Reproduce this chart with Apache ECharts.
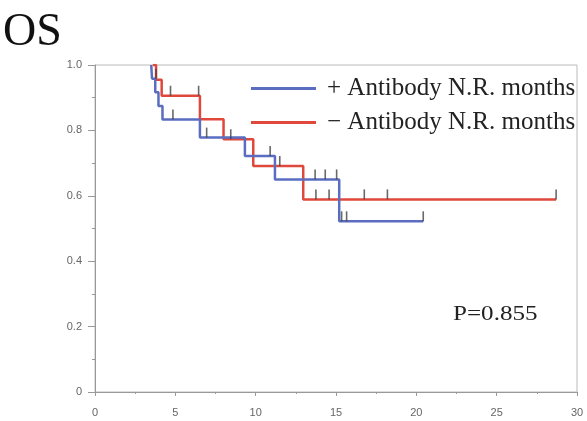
<!DOCTYPE html>
<html>
<head>
<meta charset="utf-8">
<script src="https://cdn.jsdelivr.net/npm/echarts@6/dist/echarts.min.js"></script>
<style>
  html, body { margin: 0; padding: 0; background: #fff; }
  #chart { width: 587px; height: 421px; }
</style>
</head>
<body>
<div id="chart"></div>
<script>
// Kaplan-Meier steps (time in months, survival after the event)
const plusTimes = [3.5, 3.55, 3.75, 3.95, 4.2, 6.53, 9.33, 11.2, 15.2, 20.43];
const plusSurv  = [1, 0.958, 0.917, 0.875, 0.833, 0.778, 0.722, 0.65, 0.522, 0.522];
const minusTimes = [3.6, 3.8, 4.15, 6.53, 8.0, 9.85, 12.96, 28.7];
const minusSurv  = [1, 0.955, 0.906, 0.834, 0.773, 0.691, 0.589, 0.589];

// censored marks
const plusCensTimes = [3.8, 4.85, 6.95, 10.9, 13.7, 14.33, 15.04, 15.35, 15.66, 20.43];
const plusCensSurv  = [0.958, 0.833, 0.778, 0.722, 0.65, 0.65, 0.65, 0.522, 0.522, 0.522];
const minusCensTimes = [4.7, 6.45, 8.45, 11.5, 13.75, 14.57, 16.76, 18.2, 28.7];
const minusCensSurv  = [0.906, 0.906, 0.773, 0.691, 0.589, 0.589, 0.589, 0.589, 0.589];

const seriesNames = ['+ Antibody N.R. months', '\u2212 Antibody N.R. months'];
const xTicks = [0, 30, 5];
const pText = 'P=0.855';

const zip = (a, b) => a.map((v, i) => [v, b[i]]);

const chart = echarts.init(document.getElementById('chart'));

const censorSeries = (t, s) => ({
    type: 'scatter',
    data: zip(t, s),
    symbol: 'rect',
    symbolSize: [1.6, 10],
    symbolOffset: [0, -5],
    itemStyle: { color: '#444' },
    silent: true,
    z: 5
});

chart.setOption({
    animation: false,
    title: {
        text: 'OS',
        left: -2,
        top: 5,
        textStyle: { fontFamily: 'Liberation Serif', fontSize: 46, fontWeight: 'normal', color: '#111' }
    },
    graphic: [{
        type: 'text',
        left: 453,
        top: 303,
        scaleX: 1.14,
        style: { text: pText, font: '22px "Liberation Serif"', fill: '#222' }
    }],
    legend: {
        orient: 'vertical',
        left: 246,
        top: 71,
        itemGap: 9,
        itemWidth: 65,
        itemHeight: 3,
        icon: 'rect',
        data: seriesNames,
        textStyle: { fontFamily: 'Liberation Serif', fontSize: 25, color: '#222', padding: [0, 0, 0, 6] }
    },
    grid: {
        left: 95,
        right: 10,
        top: 65,
        bottom: 29,
        show: true,
        borderColor: '#bbb',
        borderWidth: 1
    },
    xAxis: {
        type: 'value',
        min: xTicks[0],
        max: xTicks[1],
        interval: xTicks[2],
        axisLine: { lineStyle: { color: '#999' } },
        axisTick: { length: 4, lineStyle: { color: '#999' } },
        minorTick: { show: true, splitNumber: 2, length: 2, lineStyle: { color: '#999' } },
        splitLine: { show: false },
        axisLabel: { color: '#666', fontSize: 11, fontFamily: 'Liberation Sans', margin: 15 }
    },
    yAxis: {
        type: 'value',
        min: 0,
        max: 1,
        interval: 0.2,
        axisLine: { show: true, lineStyle: { color: '#999' } },
        axisTick: { show: true, length: 7, lineStyle: { color: '#999' } },
        minorTick: { show: true, splitNumber: 2, length: 3, lineStyle: { color: '#999' } },
        splitLine: { show: false },
        axisLabel: {
            color: '#666', fontSize: 11, fontFamily: 'Liberation Sans', margin: 13,
            formatter: v => v === 0 ? '0' : v.toFixed(1)
        }
    },
    series: [
        {
            name: seriesNames[0],
            type: 'line',
            step: 'end',
            showSymbol: false,
            symbol: 'none',
            data: zip(plusTimes, plusSurv),
            lineStyle: { color: '#5a6dc0', width: 2.5 },
            itemStyle: { color: '#5a6dc0' },
            z: 3
        },
        {
            name: seriesNames[1],
            type: 'line',
            step: 'end',
            showSymbol: false,
            symbol: 'none',
            data: zip(minusTimes, minusSurv),
            lineStyle: { color: '#e0483b', width: 2.5 },
            itemStyle: { color: '#e0483b' },
            z: 2
        },
        censorSeries(plusCensTimes, plusCensSurv),
        censorSeries(minusCensTimes, minusCensSurv)
    ]
});
</script>
</body>
</html>
